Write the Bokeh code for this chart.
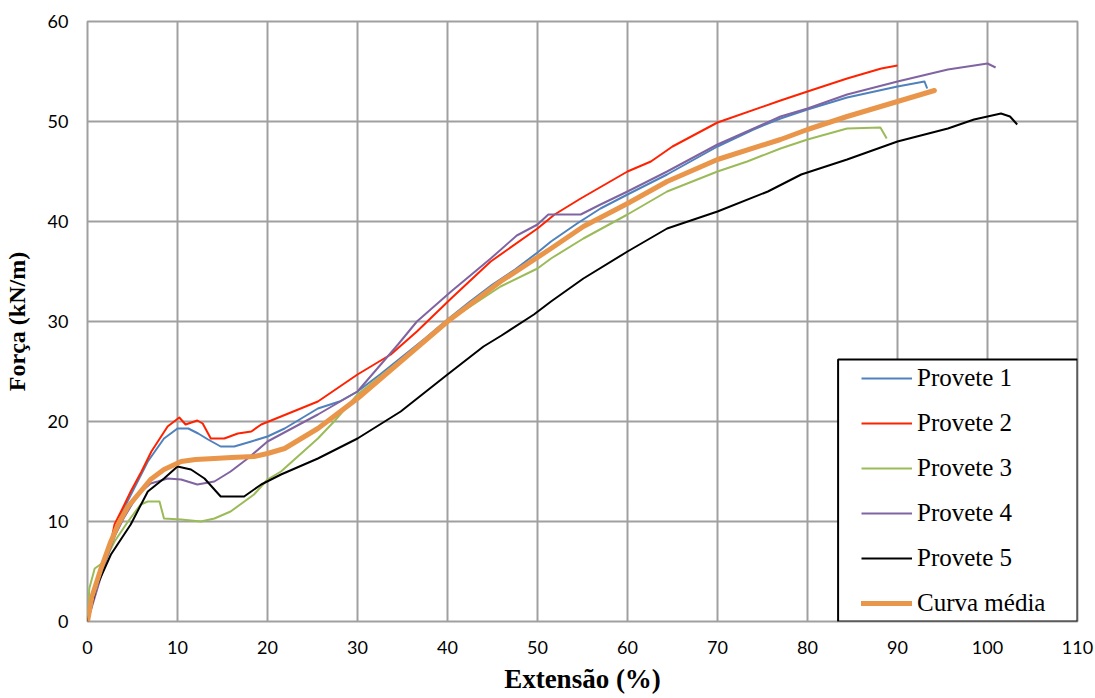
from bokeh.plotting import figure
from bokeh.models import Range1d, FixedTicker, BoxAnnotation, Legend, LegendItem
from bokeh.embed import file_html
from bokeh.resources import INLINE

# ---------------- data ----------------
x_ticks = [0, 10, 20, 30, 40, 50, 60, 70, 80, 90, 100, 110]
y_ticks = [0, 10, 20, 30, 40, 50, 60]

labels = ["Provete 1", "Provete 2", "Provete 3", "Provete 4", "Provete 5", "Curva média"]

p1_x = [0, 0.5, 1, 2, 3, 3.7, 5, 6.7, 8.5, 10, 11.2, 12.3, 13.4, 14.8, 16.3, 18.2, 20, 21.9,
        25.6, 28, 30, 32.5, 35, 37.5, 40, 42.5, 45, 47.5, 50, 51.5, 54.4, 57, 60, 64.4, 67,
        70, 74, 77, 80, 84.4, 90, 93, 93.3]
p1_y = [0, 2, 4, 6.5, 8.5, 10.7, 13, 16, 18.3, 19.3, 19.3, 18.8, 18.2, 17.5, 17.5, 18, 18.5, 19.3,
        21.3, 22, 23, 24.7, 26.5, 28.3, 30.2, 32, 33.7, 35.2, 36.9, 38, 39.8, 41.3, 42.7, 44.7, 46,
        47.5, 49.2, 50.3, 51.2, 52.4, 53.5, 54, 53.3]

p2_x = [0, 0.5, 1.5, 2.4, 3, 4, 4.8, 6, 7.1, 8.9, 10.2, 10.9, 12.2, 12.8, 13.7, 15.2, 16.7, 18.2,
        19.3, 21.5, 25.6, 30, 33.7, 36.6, 40.4, 44.8, 50, 51.9, 54.8, 60, 62.6, 65, 70, 77, 80,
        84.4, 88.2, 90]
p2_y = [0, 2.5, 5, 7, 9.7, 11.5, 13, 15, 17, 19.5, 20.4, 19.7, 20.1, 19.8, 18.3, 18.3, 18.8, 19,
        19.7, 20.5, 22, 24.7, 26.7, 29, 32.3, 36, 39.3, 40.7, 42.3, 45, 46, 47.5, 49.9, 52.1, 53,
        54.3, 55.3, 55.6]

p3_x = [0, 0.2, 0.8, 1.9, 3, 4.5, 5.9, 6.7, 8, 8.5, 10.4, 12.6, 14.1, 15.9, 18.5, 20, 21.5, 25.6,
        27.4, 30, 35, 40, 45.9, 50, 51.5, 55.1, 60, 64.4, 70, 73.3, 77, 80, 84.4, 88.1, 88.8]
p3_y = [0, 3.3, 5.3, 6, 8, 10, 11.7, 12, 12, 10.3, 10.2, 10, 10.3, 11, 12.7, 14.2, 15, 18.3,
        20, 22.7, 26.3, 30, 33.5, 35.3, 36.3, 38.3, 40.7, 43, 45, 46, 47.3, 48.2, 49.3, 49.4, 48.3]

p4_x = [0, 1, 2, 3, 4, 5, 6, 7, 7.8, 8.9, 10.4, 12.2, 14.1, 15.9, 17.8, 20, 25.6, 30, 34.5, 36.6,
        40.4, 44.8, 47.7, 50, 51.2, 54.8, 57, 60, 64.4, 70, 77, 80, 84.4, 90, 95.6, 100, 100.9]
p4_y = [0, 3, 6, 8.5, 10.3, 11.8, 13, 13.8, 14, 14.3, 14.2, 13.7, 14, 15, 16.3, 18, 20.7, 23, 27.7, 30,
        33, 36.3, 38.6, 39.7, 40.7, 40.7, 41.7, 43, 45, 47.7, 50.5, 51.3, 52.7, 54, 55.2, 55.8, 55.4]

p5_x = [0, 1, 2.6, 4.8, 6.7, 8.5, 10, 11.5, 13, 14.8, 17.4, 19.3, 21.5, 25.6, 30, 34.8, 40, 44,
        46, 49.6, 51.5, 55.1, 60, 64.4, 70, 75.6, 79.3, 84.4, 90, 95.6, 98.5, 100, 101.5, 102.5, 103.3]
p5_y = [0, 3.5, 6.7, 9.7, 13, 14.3, 15.5, 15.2, 14.3, 12.5, 12.5, 13.7, 14.7, 16.3, 18.3, 21, 24.7, 27.5,
        28.6, 30.7, 32, 34.3, 37, 39.3, 41, 43, 44.7, 46.2, 48, 49.3, 50.2, 50.5, 50.8, 50.5, 49.7]

avg_x = [0, 0.5, 1.5, 2.5, 3.4, 4.5, 5.9, 7, 8.5, 10.4, 12, 14.1, 16, 18.5, 20, 21.9, 25.6, 30,
         34.8, 40, 45.9, 51.5, 55.1, 60, 64.4, 70, 77, 80, 84.4, 90, 94.1]
avg_y = [0, 2.5, 5.3, 7.8, 9.7, 11.5, 13, 14.2, 15.2, 16, 16.2, 16.3, 16.4, 16.5, 16.8, 17.3, 19.3, 22.3,
         26, 30, 34, 37.3, 39.5, 41.8, 44, 46.2, 48.2, 49.2, 50.5, 52, 53.1]

# ---------------- figure ----------------
GRID = "#A0A0A0"
p = figure(width=1095, height=698, x_range=Range1d(0, 110), y_range=Range1d(0, 60),
           output_backend="svg", toolbar_location=None,
           min_border_left=87, min_border_right=18, min_border_top=21, min_border_bottom=77)
p.background_fill_color = "white"
p.border_fill_color = "white"
p.outline_line_color = GRID
p.outline_line_width = 2

p.xaxis.ticker = FixedTicker(ticks=x_ticks)
p.yaxis.ticker = FixedTicker(ticks=y_ticks)
for ax in (p.xaxis, p.yaxis):
    ax.axis_line_color = None
    ax.major_tick_line_color = None
    ax.minor_tick_line_color = None
    ax.major_tick_out = 0
    ax.major_tick_in = 0
    ax.major_label_text_font = "Lato"
    ax.major_label_text_font_size = "18px"
    ax.major_label_text_color = "black"
    ax.major_label_standoff = 19
    ax.axis_label_text_font = "Liberation Serif"
    ax.axis_label_text_font_style = "bold"
    ax.axis_label_text_color = "black"

p.xaxis.axis_label = "Extensão (%)"
p.xaxis.axis_label_text_font_size = "27px"
p.xaxis.axis_label_standoff = 7
p.yaxis.axis_label = "Força (kN/m)"
p.yaxis.axis_label_text_font_size = "24px"
p.yaxis.axis_label_standoff = 15

p.xgrid.grid_line_color = GRID
p.ygrid.grid_line_color = GRID
p.xgrid.grid_line_width = 2
p.ygrid.grid_line_width = 2

colors = ["#4F81BD", "#FF2200", "#9BBB59", "#8064A2", "#000000", "#E9964A"]
series = [(p1_x, p1_y), (p2_x, p2_y), (p3_x, p3_y), (p4_x, p4_y), (p5_x, p5_y), (avg_x, avg_y)]
rends = []
for i, (xs, ys) in enumerate(series):
    lw = 5 if i == 5 else 2
    r = p.line(xs, ys, line_color=colors[i], line_width=lw,
               line_cap="round" if i == 5 else "butt", line_join="round")
    rends.append(r)

box = BoxAnnotation(left=83.4, right=110, bottom=0, top=26.2, fill_color="white", fill_alpha=1,
                    line_color="black", line_width=2, line_alpha=1)
p.add_layout(box)

legend = Legend(items=[LegendItem(label=labels[i], renderers=[rends[i]]) for i in range(6)],
                location=(774, 4), padding=0, margin=0, spacing=17,
                label_height=27, glyph_height=28, glyph_width=51, label_standoff=5,
                border_line_alpha=0, background_fill_alpha=0,
                label_text_font="Liberation Serif", label_text_font_size="25px",
                label_text_color="black")
p.add_layout(legend)

open("out.html", "w").write(file_html(p, INLINE))
